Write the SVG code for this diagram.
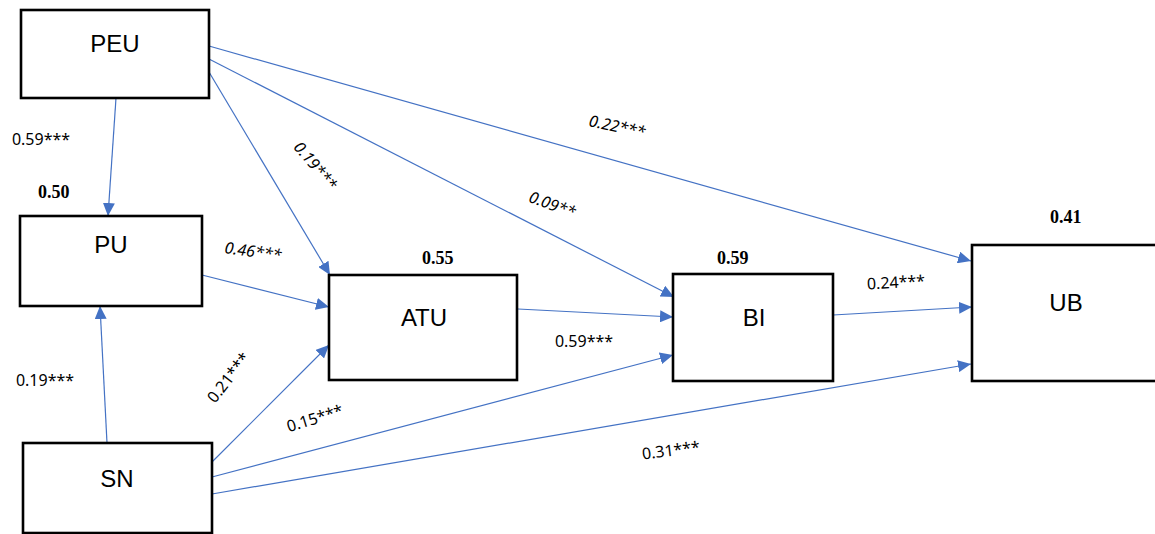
<svg xmlns="http://www.w3.org/2000/svg" width="1155" height="534" viewBox="0 0 1155 534">
<style>
.box{fill:#fff;stroke:#000;stroke-width:2.6}
.nt{font-family:"Liberation Sans",Arial,sans-serif;font-size:24px;fill:#000;text-anchor:middle}
.r2{font-family:"Liberation Serif","Times New Roman",serif;font-size:18px;font-weight:bold;fill:#000}
.el{font-family:"Noto Sans","Liberation Sans",Arial,sans-serif;font-size:16px;fill:#000;text-anchor:middle}
.it{font-style:italic}
.cn line{stroke:#4472C4;stroke-width:1.2;marker-end:url(#ah)}
</style>
<defs>
<marker id="ah" markerUnits="userSpaceOnUse" markerWidth="13" markerHeight="12" refX="13" refY="6" orient="auto">
<path d="M0,0 L13,6 L0,12 z" fill="#4472C4"/>
</marker>
</defs>
<rect width="1155" height="534" fill="#fff"/>
<g id="connectors" class="cn">
<line x1="116" y1="98" x2="108" y2="216"/>
<line x1="209" y1="72" x2="330" y2="275"/>
<line x1="209" y1="59" x2="674" y2="297"/>
<line x1="209" y1="46" x2="971" y2="261"/>
<line x1="202" y1="275" x2="329" y2="307"/>
<line x1="107" y1="443" x2="100" y2="306"/>
<line x1="208" y1="466" x2="329" y2="345"/>
<line x1="212" y1="477" x2="673" y2="355"/>
<line x1="212" y1="494" x2="971" y2="364"/>
<line x1="518" y1="309" x2="673" y2="317"/>
<line x1="833" y1="315" x2="972" y2="307"/>
</g>
<g id="PEU"><rect class="box" x="21" y="10" width="188" height="88"/><text class="nt" x="115" y="52">PEU</text></g>
<g id="PU"><rect class="box" x="20" y="216" width="182" height="90"/><text class="nt" x="111" y="253">PU</text><text class="r2" x="38" y="198">0.50</text></g>
<g id="SN"><rect class="box" x="23" y="443" width="189" height="90"/><text class="nt" x="117" y="487">SN</text></g>
<g id="ATU"><rect class="box" x="329" y="275" width="188" height="105"/><text class="nt" x="424" y="326">ATU</text><text class="r2" x="422" y="264">0.55</text></g>
<g id="BI"><rect class="box" x="673" y="274" width="160" height="107"/><text class="nt" x="754" y="326">BI</text><text class="r2" x="717" y="264">0.59</text></g>
<g id="UB"><rect class="box" x="972" y="245" width="200" height="136"/><text class="nt" x="1066" y="311">UB</text><text class="r2" x="1050" y="223">0.41</text></g>
<g id="labels">
<text class="el" x="41" y="145">0.59***</text>
<text class="el" x="45" y="386">0.19***</text>
<text class="el it" transform="translate(253,252) rotate(8)" y="5">0.46***</text>
<text class="el it" transform="translate(315,166) rotate(50)" y="5">0.19***</text>
<text class="el it" transform="translate(552,205) rotate(20)" y="5">0.09**</text>
<text class="el it" transform="translate(617,127) rotate(12)" y="5">0.22***</text>
<text class="el" transform="translate(896,283) rotate(-3)" y="5">0.24***</text>
<text class="el" x="584" y="347">0.59***</text>
<text class="el" transform="translate(229,378) rotate(-52)" y="5">0.21***</text>
<text class="el" transform="translate(315,419) rotate(-17)" y="5">0.15***</text>
<text class="el" transform="translate(671,451) rotate(-7)" y="5">0.31***</text>
</g>
</svg>
